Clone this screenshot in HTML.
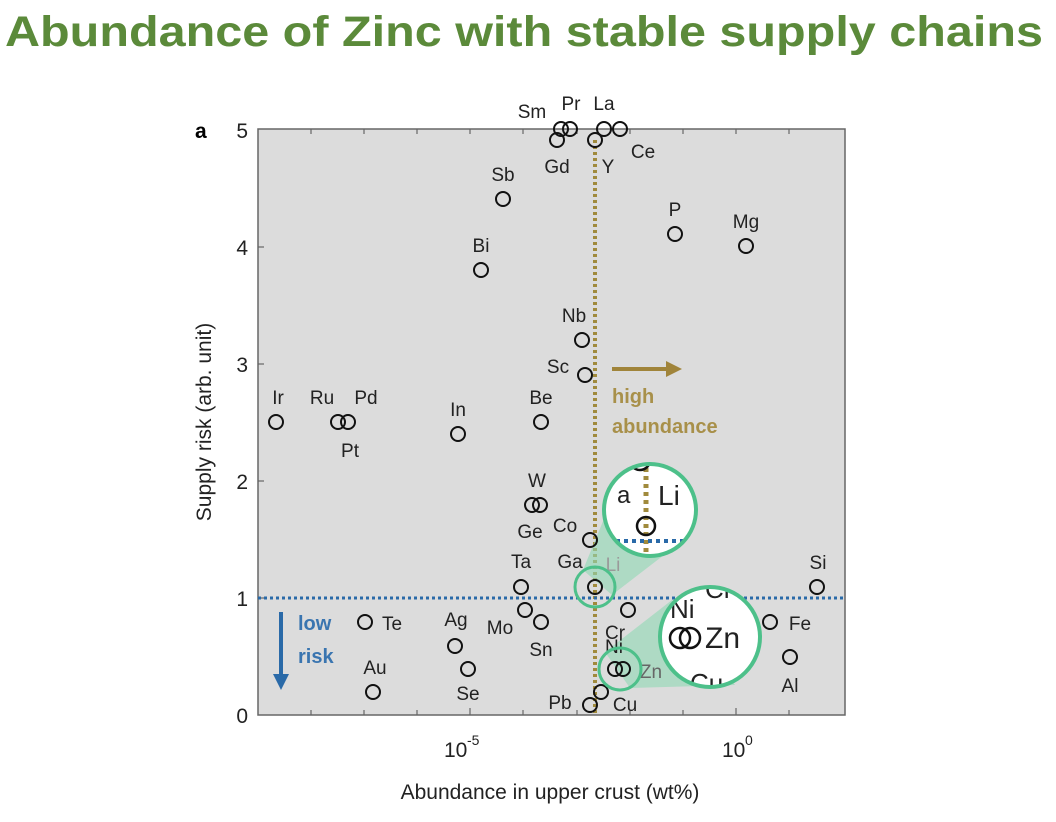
<!DOCTYPE html>
<html><head><meta charset="utf-8"><style>
body{margin:0;background:#fff;width:1056px;height:822px;overflow:hidden}
svg{display:block;font-family:"Liberation Sans",Arial,sans-serif}
</style></head><body>
<svg width="1056" height="822" viewBox="0 0 1056 822">
<defs>
<clipPath id="c1"><circle cx="650" cy="510" r="46"/></clipPath>
<clipPath id="c2"><circle cx="710" cy="637" r="50"/></clipPath>
</defs>
<text x="5" y="46" font-size="43" font-weight="bold" fill="#5b8a3a" textLength="1038" lengthAdjust="spacingAndGlyphs">Abundance of Zinc with stable supply chains</text>
<rect x="258" y="129" width="587" height="586" fill="#dcdcdc" stroke="#666" stroke-width="1.5"/>
<g stroke="#666" stroke-width="1.2">
<line x1="311" y1="715" x2="311" y2="710"/><line x1="364" y1="715" x2="364" y2="710"/><line x1="417" y1="715" x2="417" y2="710"/><line x1="470" y1="715" x2="470" y2="708"/><line x1="523" y1="715" x2="523" y2="710"/><line x1="577" y1="715" x2="577" y2="710"/><line x1="630" y1="715" x2="630" y2="710"/><line x1="683" y1="715" x2="683" y2="710"/><line x1="736" y1="715" x2="736" y2="708"/><line x1="789" y1="715" x2="789" y2="710"/>
<line x1="311" y1="129" x2="311" y2="134"/><line x1="364" y1="129" x2="364" y2="134"/><line x1="417" y1="129" x2="417" y2="134"/><line x1="470" y1="129" x2="470" y2="134"/><line x1="523" y1="129" x2="523" y2="134"/><line x1="577" y1="129" x2="577" y2="134"/><line x1="630" y1="129" x2="630" y2="134"/><line x1="683" y1="129" x2="683" y2="134"/><line x1="736" y1="129" x2="736" y2="134"/><line x1="789" y1="129" x2="789" y2="134"/>
<line x1="258" y1="247" x2="264" y2="247"/><line x1="258" y1="364" x2="264" y2="364"/><line x1="258" y1="481" x2="264" y2="481"/><line x1="258" y1="598" x2="264" y2="598"/>
</g>
<g font-size="21" fill="#222" text-anchor="end">
<text x="248" y="138">5</text><text x="248" y="255">4</text><text x="248" y="372">3</text><text x="248" y="489">2</text><text x="248" y="606">1</text><text x="248" y="723">0</text>
</g>
<text x="195" y="138" font-size="21" font-weight="bold">a</text>
<text x="444" y="757" font-size="21" fill="#222">10</text><text x="467" y="745" font-size="14" fill="#222">-5</text>
<text x="722" y="757" font-size="21" fill="#222">10</text><text x="745" y="745" font-size="14" fill="#222">0</text>
<text x="550" y="799" font-size="21" fill="#222" text-anchor="middle">Abundance in upper crust (wt%)</text>
<text transform="translate(211,422) rotate(-90)" font-size="21" fill="#222" text-anchor="middle">Supply risk (arb. unit)</text>
<line x1="595" y1="140" x2="595" y2="715" stroke="#a08a3c" stroke-width="4" stroke-dasharray="3,3"/>
<line x1="258" y1="598" x2="845" y2="598" stroke="#2a6aa8" stroke-width="3" stroke-dasharray="3,3"/>
<polygon points="583,570 612,595 690,535 622,475" fill="#8fd9b4" opacity="0.6"/>
<polygon points="605,652 630,688 735,685 672,600" fill="#8fd9b4" opacity="0.6"/>
<g fill="none" stroke="#111" stroke-width="2">
<circle cx="561" cy="129" r="7"/><circle cx="570" cy="129" r="7"/><circle cx="604" cy="129" r="7"/><circle cx="620" cy="129" r="7"/>
<circle cx="557" cy="140" r="7"/><circle cx="595" cy="140" r="7"/><circle cx="503" cy="199" r="7"/><circle cx="675" cy="234" r="7"/><circle cx="746" cy="246" r="7"/><circle cx="481" cy="270" r="7"/>
<circle cx="582" cy="340" r="7"/><circle cx="585" cy="375" r="7"/><circle cx="276" cy="422" r="7"/><circle cx="338" cy="422" r="7"/><circle cx="348" cy="422" r="7"/><circle cx="458" cy="434" r="7"/><circle cx="541" cy="422" r="7"/>
<circle cx="532" cy="505" r="7"/><circle cx="540" cy="505" r="7"/><circle cx="590" cy="540" r="7"/><circle cx="521" cy="587" r="7"/><circle cx="595" cy="587" r="7"/>
<circle cx="525" cy="610" r="7"/><circle cx="541" cy="622" r="7"/><circle cx="455" cy="646" r="7"/><circle cx="468" cy="669" r="7"/><circle cx="365" cy="622" r="7"/><circle cx="373" cy="692" r="7"/>
<circle cx="628" cy="610" r="7"/><circle cx="615" cy="669" r="7"/><circle cx="623" cy="669" r="7"/><circle cx="590" cy="705" r="7"/><circle cx="601" cy="692" r="7"/>
<circle cx="770" cy="622" r="7"/><circle cx="790" cy="657" r="7"/><circle cx="817" cy="587" r="7"/>
</g>
<g font-size="19" fill="#222" text-anchor="middle">
<text x="532" y="118">Sm</text><text x="571" y="110">Pr</text><text x="604" y="110">La</text><text x="557" y="173">Gd</text><text x="608" y="173">Y</text><text x="643" y="158">Ce</text>
<text x="503" y="181">Sb</text><text x="675" y="216">P</text><text x="746" y="228">Mg</text><text x="481" y="252">Bi</text><text x="574" y="322">Nb</text><text x="558" y="373">Sc</text>
<text x="278" y="404">Ir</text><text x="322" y="404">Ru</text><text x="366" y="404">Pd</text><text x="350" y="457">Pt</text><text x="458" y="416">In</text><text x="541" y="404">Be</text>
<text x="537" y="487">W</text><text x="530" y="538">Ge</text><text x="565" y="532">Co</text><text x="570" y="568">Ga</text><text x="521" y="568">Ta</text><text x="613" y="571" fill="#9a9a9a">Li</text>
<text x="500" y="634">Mo</text><text x="541" y="656">Sn</text><text x="456" y="626">Ag</text><text x="468" y="700">Se</text><text x="392" y="630">Te</text><text x="375" y="674">Au</text>
<text x="615" y="639">Cr</text><text x="614" y="653">Ni</text><text x="651" y="678" fill="#666">Zn</text><text x="560" y="709">Pb</text><text x="625" y="711">Cu</text>
<text x="800" y="630">Fe</text><text x="790" y="692">Al</text><text x="818" y="569">Si</text>
</g>
<circle cx="595" cy="587" r="20" fill="none" stroke="#4dc08a" stroke-width="3"/>
<circle cx="620" cy="669" r="21" fill="none" stroke="#4dc08a" stroke-width="3"/>
<g clip-path="url(#c1)">
<rect x="600" y="460" width="100" height="100" fill="#fff"/>
<line x1="646" y1="460" x2="646" y2="560" stroke="#a08a3c" stroke-width="5" stroke-dasharray="4,4"/>
<line x1="600" y1="541" x2="700" y2="541" stroke="#2a6aa8" stroke-width="4" stroke-dasharray="4,4"/>
<text x="617" y="503" font-size="24" fill="#222">a</text><text x="658" y="505" font-size="28" fill="#222">Li</text>
<circle cx="646" cy="526" r="9" fill="none" stroke="#111" stroke-width="2.5"/>
<circle cx="690" cy="555" r="10" fill="none" stroke="#111" stroke-width="2.5"/>
<circle cx="640" cy="460" r="10" fill="none" stroke="#111" stroke-width="2.5"/>
</g>
<circle cx="650" cy="510" r="46" fill="none" stroke="#4dc08a" stroke-width="4"/>
<g clip-path="url(#c2)">
<rect x="655" y="585" width="110" height="110" fill="#fff"/>
<text x="670" y="618" font-size="26" fill="#222">Ni</text>
<circle cx="680" cy="638" r="10" fill="none" stroke="#111" stroke-width="2.5"/>
<circle cx="690" cy="638" r="10" fill="none" stroke="#111" stroke-width="2.5"/>
<text x="705" y="648" font-size="30" fill="#222">Zn</text>
<text x="690" y="692" font-size="26" fill="#222">Cu</text>
<text x="705" y="598" font-size="26" fill="#222">Cr</text>
</g>
<circle cx="710" cy="637" r="50" fill="none" stroke="#4dc08a" stroke-width="4"/>
<line x1="612" y1="369" x2="668" y2="369" stroke="#a0843a" stroke-width="4"/>
<polygon points="666,361 682,369 666,377" fill="#a0843a"/>
<text x="612" y="403" font-size="20" font-weight="bold" fill="#a8904a">high</text>
<text x="612" y="433" font-size="20" font-weight="bold" fill="#a8904a">abundance</text>
<line x1="281" y1="612" x2="281" y2="676" stroke="#2a6aa8" stroke-width="4"/>
<polygon points="273,674 281,690 289,674" fill="#2a6aa8"/>
<text x="298" y="630" font-size="20" font-weight="bold" fill="#3a75b0">low</text>
<text x="298" y="663" font-size="20" font-weight="bold" fill="#3a75b0">risk</text>
</svg>
</body></html>
